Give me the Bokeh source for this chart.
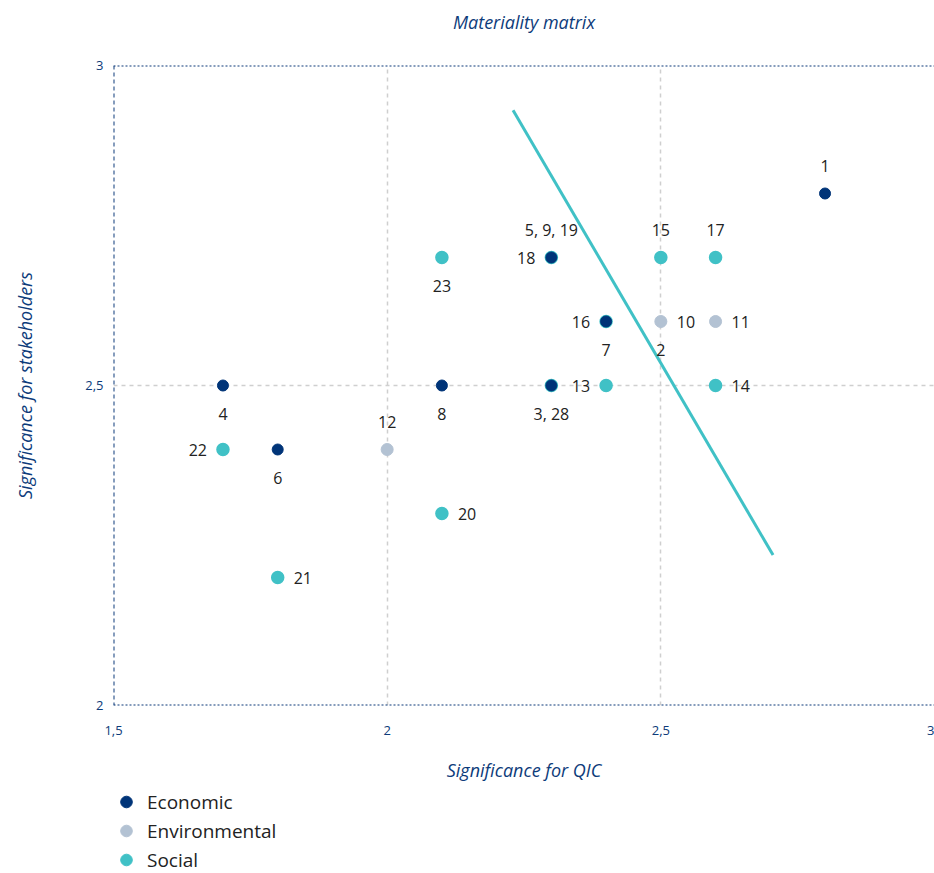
from bokeh.plotting import figure
from bokeh.layouts import column
from bokeh.models import (FixedTicker, Span, ColumnDataSource, Legend, LegendItem, LinearAxis)
from bokeh.core.properties import value
from bokeh.embed import file_html
from bokeh.resources import INLINE

# ---------------- data ----------------
title_text = "Materiality matrix"
categories = ["Economic", "Environmental", "Social"]
econ_x = [2.8, 2.3, 2.4, 2.3, 1.7, 2.1, 1.8]
econ_y = [2.8, 2.7, 2.6, 2.5, 2.5, 2.5, 2.4]
env_x = [2.5, 2.6, 2.0]
env_y = [2.6, 2.6, 2.4]
soc_x = [2.3, 2.5, 2.6, 2.1, 2.4, 2.3, 2.4, 2.6, 1.7, 2.1, 1.8]
soc_y = [2.7, 2.7, 2.7, 2.7, 2.6, 2.5, 2.5, 2.5, 2.4, 2.3, 2.2]

label_text = ["1", "5, 9, 19", "18", "15", "17", "23", "16", "7", "10", "2", "11",
              "3, 28", "13", "14", "4", "8", "22", "6", "12", "20", "21"]
label_x = [2.8, 2.3, 2.3, 2.5, 2.6, 2.1, 2.4, 2.4, 2.5, 2.5, 2.6,
           2.3, 2.4, 2.6, 1.7, 2.1, 1.7, 1.8, 2.0, 2.1, 1.8]
label_y = [2.8, 2.7, 2.7, 2.7, 2.7, 2.7, 2.6, 2.6, 2.6, 2.6, 2.6,
           2.5, 2.5, 2.5, 2.5, 2.5, 2.4, 2.4, 2.4, 2.3, 2.2]
label_side = ["above", "above", "left", "above", "above", "below", "left", "below", "right", "below", "right",
              "below", "left", "right", "below", "below", "left", "below", "above", "right", "right"]

threshold_x = [2.23, 2.705]
threshold_y = [2.93, 2.235]

tick_values = [1.5, 2, 2.5, 3]
x_tick_labels = ["1,5", "2", "2,5", "3"]
y_tick_values = [2, 2.5, 3]
y_tick_labels = ["2", "2,5", "3"]

# ---------------- style ----------------
NAVY = "#0d3b7a"
ECON = "#003478"
ENV = "#b3c2d3"
SOC = "#40c1c6"
TXT = "#222222"
FONT = "Open Sans"

p = figure(width=934, height=784, x_range=(1.5, 3.0), y_range=(2.0, 3.0),
           output_backend="svg", toolbar_location=None, title=None,
           min_border_left=113, min_border_right=0, min_border_top=65, min_border_bottom=10)
p.outline_line_color = None

bottom_axis = p.below[0]
left_axis = p.left[0]

# title drawn as the label of an empty axis above the frame
top_axis = LinearAxis(ticker=FixedTicker(ticks=[]), axis_label=title_text)
p.add_layout(top_axis, "above")

for ax in (bottom_axis, left_axis, top_axis):
    ax.axis_line_color = None
    ax.major_tick_line_color = None
    ax.minor_tick_line_color = None
    ax.major_tick_out = 0
    ax.minor_tick_out = 0
    ax.major_label_text_font = FONT
    ax.major_label_text_font_size = "13px"
    ax.major_label_text_color = NAVY
    ax.axis_label_text_font = FONT
    ax.axis_label_text_font_style = "italic"
    ax.axis_label_text_font_size = "18px"
    ax.axis_label_text_color = NAVY

top_axis.major_label_standoff = 0
top_axis.axis_label_standoff = 32

bottom_axis.ticker = FixedTicker(ticks=tick_values)
bottom_axis.major_label_overrides = {v: l for v, l in zip(tick_values, x_tick_labels)}
bottom_axis.axis_label = "Significance for QIC"
bottom_axis.major_label_standoff = 20
bottom_axis.axis_label_standoff = 20

left_axis.ticker = FixedTicker(ticks=y_tick_values)
left_axis.major_label_overrides = {v: l for v, l in zip(y_tick_values, y_tick_labels)}
left_axis.axis_label = "Significance for stakeholders"
left_axis.major_label_standoff = 10
left_axis.axis_label_standoff = 45

# grid
p.xgrid.ticker = FixedTicker(ticks=[2, 2.5])
p.ygrid.ticker = FixedTicker(ticks=[2.5])
for g in (p.xgrid[0], p.ygrid[0]):
    g.grid_line_color = "#cfcfcf"
    g.grid_line_dash = "4 4"
    g.grid_line_width = 1.5

# frame borders
p.add_layout(Span(location=3.0, dimension="width", line_color=NAVY, line_width=2, line_dash="2 2"))
p.add_layout(Span(location=2.0, dimension="width", line_color=NAVY, line_width=2, line_dash="2 2"))
p.add_layout(Span(location=1.5, dimension="height", line_color=NAVY, line_width=2, line_dash="4 3"))

# threshold line
p.line(threshold_x, threshold_y, line_color=SOC, line_width=3)

# points
p.scatter(soc_x, soc_y, size=12, fill_color=SOC, line_color=SOC, line_width=1.5)
p.scatter(env_x, env_y, size=12, fill_color=ENV, line_color=ENV)
p.scatter(econ_x, econ_y, size=11, fill_color=ECON, line_color=ECON)

# labels
off = {"above": (0, -28, "center"), "below": (0, 28, "center"),
       "left": (-16, 0, "right"), "right": (16, 0, "left")}
src = ColumnDataSource(dict(
    x=label_x, y=label_y, text=label_text,
    xo=[off[s][0] for s in label_side],
    yo=[off[s][1] for s in label_side],
    al=[off[s][2] for s in label_side],
))
p.text(x="x", y="y", text="text", x_offset="xo", y_offset="yo", text_align="al",
       text_baseline="middle", source=src, text_font=value(FONT),
       text_font_size="16px", text_color=TXT)

# ---------------- legend figure ----------------
lf = figure(width=934, height=89, x_range=(0, 1), y_range=(0, 1),
            output_backend="svg", toolbar_location=None,
            x_axis_type=None, y_axis_type=None,
            min_border_left=113, min_border_right=0, min_border_top=0, min_border_bottom=0)
lf.outline_line_color = None
lf.xgrid.visible = False
lf.ygrid.visible = False
colors = [ECON, ENV, SOC]
items = []
for cat, col in zip(categories, colors):
    r = lf.scatter([-5], [-5], size=13, fill_color=col, line_color=col)
    items.append(LegendItem(label=cat, renderers=[r]))
legend = Legend(items=items, location=(-2, -1), orientation="vertical",
                border_line_color=None, background_fill_alpha=0,
                label_text_font=FONT, label_text_font_size="19px", label_text_color=TXT,
                glyph_width=30, glyph_height=29, label_height=20, spacing=0,
                padding=0, margin=0, label_standoff=6)
lf.add_layout(legend, "center")

layout = column(p, lf, spacing=0)
open("out.html", "w").write(file_html(layout, INLINE))
